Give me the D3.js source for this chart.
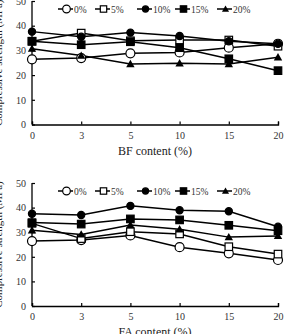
<!DOCTYPE html>
<html>
<head>
<meta charset="utf-8">
<script src="https://cdn.jsdelivr.net/npm/d3@7"></script>
<style>
  body { margin: 0; background: #fff; }
  svg { display: block; font-family: "Liberation Serif", "Times New Roman", serif; }
</style>
</head>
<body>
<div id="chart"></div>
<script>
// x categories (content %) and legend series
var xCats = ["0", "3", "5", "10", "15", "20"];
var seriesNames = ["0%", "5%", "10%", "15%", "20%"];
var markers = ["circleOpen", "squareOpen", "circleFilled", "squareFilled", "triangle"];
var yTicks = [0, 10, 20, 30, 40, 50];

// BF content panel
var bfValues = [
  [26.4, 26.9, 28.8, 29.2, 31.1, 32.7],
  [33.7, 37.0, 33.9, 34.2, 34.2, 31.7],
  [37.6, 35.5, 37.2, 35.8, 33.7, 32.7],
  [33.7, 32.3, 33.5, 31.1, 26.6, 21.8],
  [30.7, 27.9, 24.5, 24.8, 24.5, 27.2]
];
// FA content panel
var faValues = [
  [26.4, 26.8, 28.7, 23.9, 21.4, 18.7],
  [33.6, 27.4, 30.2, 29.3, 24.1, 21.1],
  [37.5, 37.0, 40.7, 38.9, 38.5, 32.2],
  [33.9, 33.3, 35.4, 35.0, 32.8, 30.6],
  [30.8, 29.1, 32.9, 31.2, 28.0, 28.5]
];

var W = 286, H = 334;
var svg = d3.select("#chart").append("svg").attr("width", W).attr("height", H);

function drawMarker(g, type, x, y, small) {
  var k = small ? 0.85 : 1;
  if (type === "circleOpen" || type === "circleFilled") {
    g.append("circle").attr("cx", x).attr("cy", y).attr("r", (type === "circleOpen" ? 4.5 : 3.6) * k)
      .attr("fill", type === "circleOpen" ? "#fff" : "#000")
      .attr("stroke", "#000").attr("stroke-width", 1.2);
  } else if (type === "squareOpen" || type === "squareFilled") {
    var s = 7.5 * k;
    g.append("rect").attr("x", x - s / 2).attr("y", y - s / 2).attr("width", s).attr("height", s)
      .attr("fill", type === "squareOpen" ? "#fff" : "#000")
      .attr("stroke", "#000").attr("stroke-width", 1.2);
  } else {
    var t = 4.2 * k;
    g.append("path")
      .attr("d", "M" + x + "," + (y - t) + "L" + (x + t) + "," + (y + t * 0.75) + "L" + (x - t) + "," + (y + t * 0.75) + "Z")
      .attr("fill", "#000");
  }
}

function panel(top, bottom, values, title) {
  var x = d3.scalePoint().domain(xCats).range([32, 278]);
  var y = d3.scaleLinear().domain([0, 50]).range([bottom, top]);
  var g = svg.append("g");

  // axes
  var yAxis = d3.axisLeft(y).tickValues(yTicks).tickSize(-3).tickPadding(6);
  var yg = g.append("g").attr("transform", "translate(32,0)").call(yAxis);
  var xAxis = d3.axisBottom(x).tickSize(-3).tickPadding(7);
  var xg = g.append("g").attr("transform", "translate(0," + bottom + ")").call(xAxis);
  [yg, xg].forEach(function (a) {
    a.select(".domain").attr("stroke", "#000").attr("stroke-width", 1.3);
    a.selectAll(".tick line").attr("stroke", "#000").attr("stroke-width", 1.2);
    a.selectAll("text").attr("font-size", 10).attr("fill", "#333")
      .attr("font-family", "Liberation Serif");
  });
  yg.select(".domain").attr("d", "M0," + y(50) + "V" + bottom);

  g.append("text").attr("x", 155).attr("y", bottom + 30)
    .attr("text-anchor", "middle").attr("font-size", 12).attr("fill", "#222")
    .text(title);

  g.append("text")
    .attr("transform", "translate(2," + ((top + bottom) / 2) + ") rotate(-90)")
    .attr("text-anchor", "middle").attr("font-size", 11).attr("fill", "#222")
    .text("Compressive strength (MPa)");

  var line = d3.line().x(function (d, i) { return x(xCats[i]); }).y(function (d) { return y(d); });

  values.forEach(function (vals, s) {
    g.append("path").attr("d", line(vals)).attr("fill", "none")
      .attr("stroke", "#000").attr("stroke-width", 1.5);
  });
  values.forEach(function (vals, s) {
    vals.forEach(function (v, i) { drawMarker(g, markers[s], x(xCats[i]), y(v)); });
  });

  // legend
  var legX = [58, 95, 137, 175, 217];
  var ly = top + 8;
  seriesNames.forEach(function (name, s) {
    var lg = g.append("g");
    lg.append("line").attr("x1", legX[s]).attr("x2", legX[s] + 15).attr("y1", ly).attr("y2", ly)
      .attr("stroke", "#000").attr("stroke-width", 1.5);
    drawMarker(lg, markers[s], legX[s] + 8.5, ly, true);
    lg.append("text").attr("x", legX[s] + 16).attr("y", ly + 3.5)
      .attr("font-size", 9.5).attr("fill", "#333").text(name);
  });
}

panel(1, 124.5, bfValues, "BF content (%)");
panel(183, 306, faValues, "FA content (%)");
</script>
</body>
</html>
